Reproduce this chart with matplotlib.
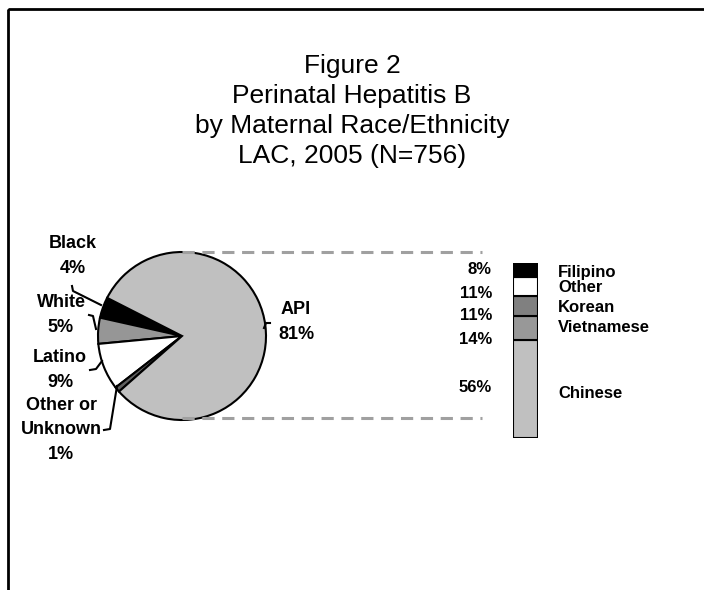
import matplotlib.pyplot as plt
from matplotlib.patches import Rectangle

plt.rcParams['font.family'] = ['Liberation Sans', 'DejaVu Sans']

# Pie data (counterclockwise from Black)
race_labels = ['Black', 'White', 'Latino', 'Other or\nUnknown', 'API']
race_pct = [4, 5, 9, 1, 81]
race_colors = ['#000000', '#969696', '#ffffff', '#606060', '#c0c0c0']

# API breakdown (bottom to top)
api_labels = ['Chinese', 'Vietnamese', 'Korean', 'Other', 'Filipino']
api_pct = [56, 14, 11, 11, 8]
api_colors = ['#c0c0c0', '#989898', '#808080', '#ffffff', '#000000']

title = 'Figure 2\nPerinatal Hepatitis B\nby Maternal Race/Ethnicity\nLAC, 2005 (N=756)'

fig = plt.figure(figsize=(7.04, 5.90), dpi=100)
ax = fig.add_axes([0, 0, 1, 1])

# outer frame
ax.add_patch(Rectangle((8, 9), 720, 600, fill=False, edgecolor='black', linewidth=2))

# title
ax.text(352, 111, title, ha='center', va='center', fontsize=19, linespacing=1.3)

# pie (y axis is inverted, so go clockwise with negative start)
cx, cy, r = 182, 336, 84
ax.pie(race_pct, colors=race_colors, center=(cx, cy), radius=r,
       startangle=-153, counterclock=False, frame=True,
       wedgeprops=dict(edgecolor='black', linewidth=1.5))
ax.set_xlim(0, 704)
ax.set_ylim(590, 0)
ax.set_aspect('auto')
ax.axis('off')

# pie labels
bold = dict(fontsize=13, fontweight='bold', ha='center', va='center', linespacing=1.6)
pie_pos = [(73, 256), (61, 315), (60, 370), (61, 430), (296, 322)]
for lab, p, (x, y) in zip(race_labels, race_pct, pie_pos):
    ax.text(x, y, f'{lab}\n{p}%', **bold)

# leader lines
lw = 1.5
ax.plot([72, 73, 101], [286, 291, 305], color='black', lw=lw)
ax.plot([89, 93, 96], [315, 316, 329], color='black', lw=lw)
ax.plot([90, 96, 102], [370, 369, 361], color='black', lw=lw)
ax.plot([117, 110, 104], [386, 429, 430], color='black', lw=lw)
ax.plot([270, 266, 264], [323, 323, 328], color='black', lw=lw)

# dashed connector lines
ax.plot([cx, 482], [252, 252], color='#a0a0a0', lw=2.2, ls=(0, (4, 2.5)))
ax.plot([cx, 482], [418, 418], color='#a0a0a0', lw=2.2, ls=(0, (4, 2.5)))

# stacked bar in its own axes
bx0, by0, bw, bh = 513, 263, 25, 175
bax = fig.add_axes([bx0 / 704, (590 - by0 - bh) / 590, bw / 704, bh / 590])
bottom = 0
for v, c in zip(api_pct, api_colors):
    bax.bar(0, v, bottom=bottom, width=1, color=c, edgecolor='black', linewidth=1.5)
    bottom += v
bax.set_xlim(-0.5, 0.5)
bax.set_ylim(0, 100)
bax.axis('off')

# bar labels (bottom to top)
pct_y = [387, 339, 316, 293, 270]
name_y = [394, 328, 308, 288, 272]
for lab, v, py, ny in zip(api_labels, api_pct, pct_y, name_y):
    ax.text(492, py, f'{v}%', fontsize=12, fontweight='bold', ha='right', va='center')
    ax.text(558, ny, lab, fontsize=12, fontweight='bold', ha='left', va='center')

fig.savefig('out.png', dpi=100)
